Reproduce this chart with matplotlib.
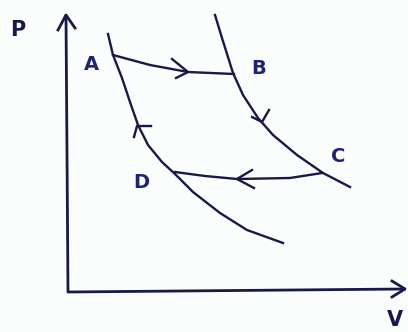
import matplotlib.pyplot as plt

iso_hot_v = [215, 222, 233, 243, 258, 273, 297, 323, 350]
iso_hot_p = [15, 38, 73, 95, 118, 135, 155, 173, 187]

iso_cold_v = [108, 113, 122, 130, 138, 148, 162, 175, 193, 220, 247, 283]
iso_cold_p = [34, 55, 78, 102, 125, 145, 162, 174, 192, 213, 230, 243]

ab_v = [113, 150, 188, 234]
ab_p = [55, 65, 72, 74]

cd_v = [175, 205, 237, 290, 322]
cd_p = [172, 176, 179, 178, 173]

# arrow heads drawn as open chevrons: tip and the two arm ends
heads = [((188, 72), (172, 59), (176, 78)),
         ((237, 179), (252, 170), (254, 188)),
         ((262, 122), (252, 117), (269, 110)),
         ((137, 126), (134, 137), (151, 126))]

labels = ['A', 'B', 'C', 'D']
label_xy = [(91, 65), (259, 68), (338, 157), (141, 183)]

ink = '#151a48'
blue = '#1d2470'

fig = plt.figure(figsize=(4.08, 3.32), dpi=100)
fig.patch.set_facecolor('#fbfcfc')
ax = fig.add_axes([0, 0, 1, 1])
ax.set_xlim(0, 408)
ax.set_ylim(332, 0)
ax.axis('off')

# axes with arrows
ax.plot([66, 68, 404], [16, 292, 289], color=ink, lw=2.0)
ax.plot([58, 66, 75], [30, 15, 28], color=ink, lw=2.0)
ax.plot([392, 405, 392], [281, 289, 297], color=ink, lw=2.0)

ax.plot(iso_hot_v, iso_hot_p, color=ink, lw=1.7)
ax.plot(iso_cold_v, iso_cold_p, color=ink, lw=1.7)
ax.plot(ab_v, ab_p, color=ink, lw=1.7)
ax.plot(cd_v, cd_p, color=ink, lw=1.7)

for tip, a1, a2 in heads:
    ax.plot([a1[0], tip[0], a2[0]], [a1[1], tip[1], a2[1]], color=ink, lw=1.7)

for lab, (x, y) in zip(labels, label_xy):
    ax.text(x, y, lab, color=blue, fontsize=14, fontweight='bold', ha='center', va='center')

ax.text(18, 30, 'P', color=ink, fontsize=15, fontweight='bold', ha='center', va='center')
ax.text(395, 320, 'V', color=ink, fontsize=15, fontweight='bold', ha='center', va='center')

fig.savefig('out.png', dpi=100, facecolor=fig.get_facecolor())
